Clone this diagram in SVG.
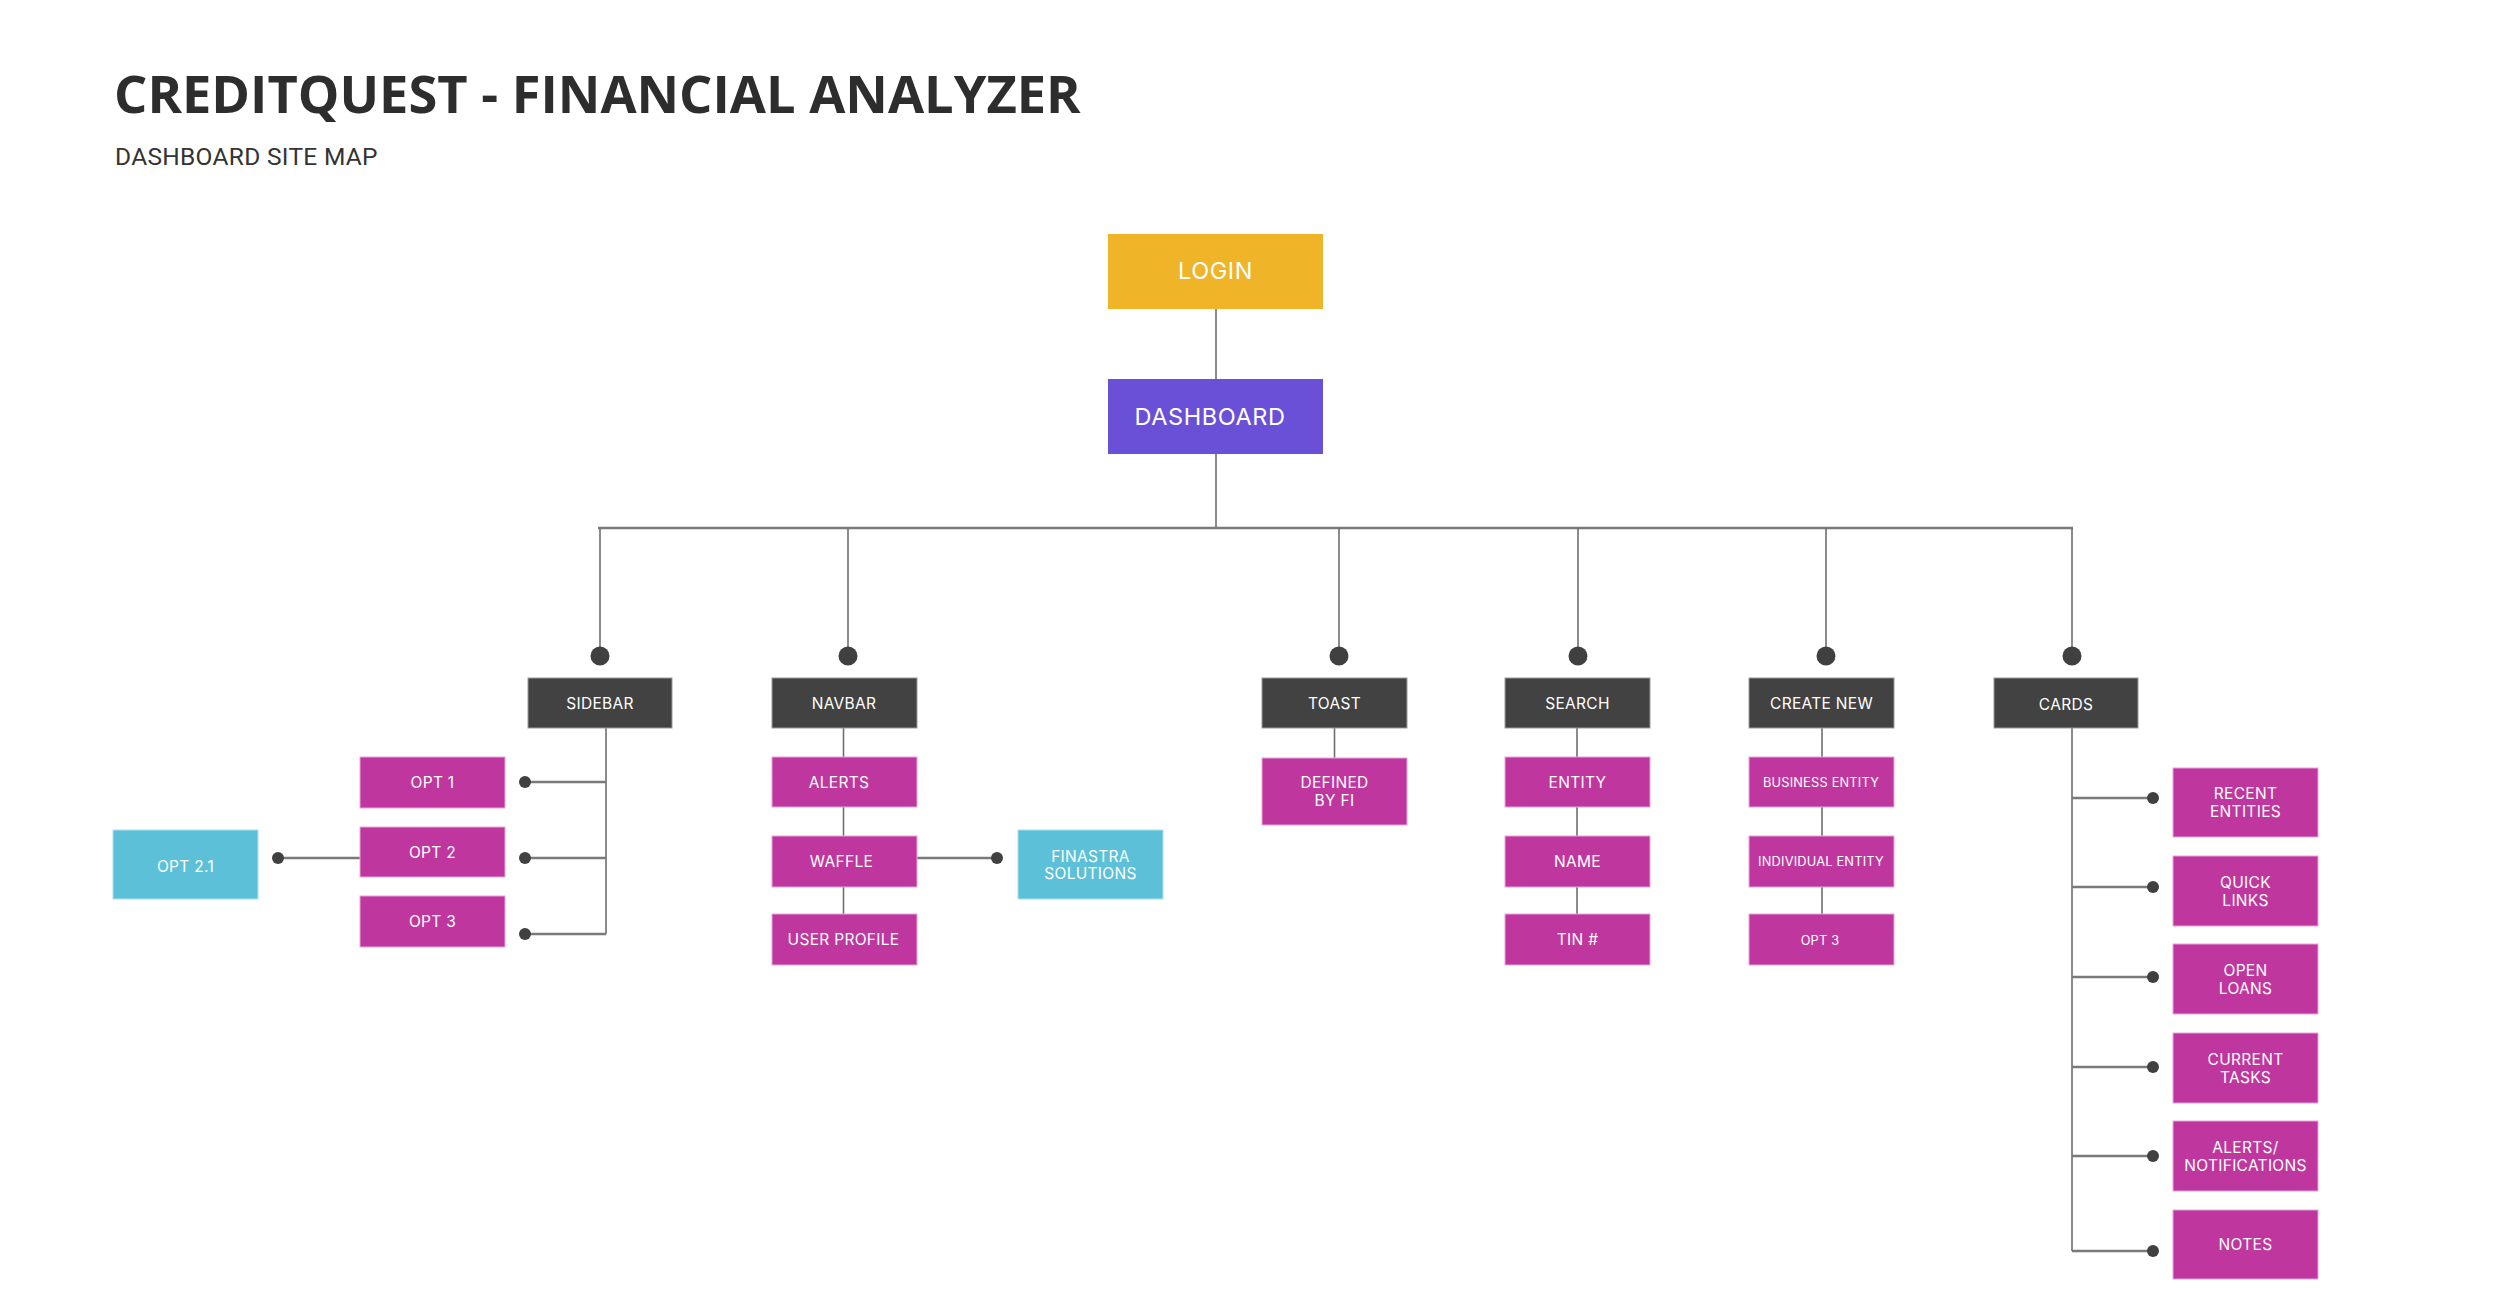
<svg xmlns="http://www.w3.org/2000/svg" width="2500" height="1309" viewBox="0 0 2500 1309">
<style>
.title{font-family:"Open Sans","DejaVu Sans",sans-serif;font-weight:700;font-size:52.4px;fill:#2d2d2d}
.sub{font-family:Roboto,"Liberation Sans",sans-serif;font-size:24.5px;letter-spacing:0.3px;fill:#333}
.lbl{font-family:Inter,"DejaVu Sans",sans-serif;fill:#fff;text-anchor:middle}
.big{font-size:23.5px;letter-spacing:0.6px}
.md{font-size:15.5px;letter-spacing:0.3px}
.sm{font-size:12.8px;letter-spacing:0.2px}
.login{fill:#efb427}
.dash{fill:#6a50d6}
.dark{fill:#424242;stroke:#9a9a9a;stroke-width:1}
.mag{fill:#bf379e;stroke:#e7a6d9;stroke-width:1}
.cyan{fill:#5cc1d8;stroke:#a9e2ee;stroke-width:1}
.ln{stroke:#6e6e6e;stroke-width:1.6;fill:none}
.hl{stroke:#7a7a7a;stroke-width:2.6;fill:none}
.dot{fill:#404040}
</style>
<rect width="2500" height="1309" fill="#fff"/>
<text class="title" x="114" y="113">CREDITQUEST - FINANCIAL ANALYZER</text>
<text class="sub" x="115" y="165">DASHBOARD SITE MAP</text>

<g id="connectors">
<line class="ln" x1="1216" y1="309" x2="1216" y2="379"/>
<line class="ln" x1="1216" y1="454" x2="1216" y2="528"/>
<line class="hl" x1="598" y1="528" x2="2073" y2="528"/>
<line class="ln" x1="600" y1="528" x2="600" y2="656"/>
<line class="ln" x1="848" y1="528" x2="848" y2="656"/>
<line class="ln" x1="1339" y1="528" x2="1339" y2="656"/>
<line class="ln" x1="1578" y1="528" x2="1578" y2="656"/>
<line class="ln" x1="1826" y1="528" x2="1826" y2="656"/>
<line class="ln" x1="2072" y1="528" x2="2072" y2="656"/>
<circle class="dot" cx="600" cy="656" r="9.5"/>
<circle class="dot" cx="848" cy="656" r="9.5"/>
<circle class="dot" cx="1339" cy="656" r="9.5"/>
<circle class="dot" cx="1578" cy="656" r="9.5"/>
<circle class="dot" cx="1826" cy="656" r="9.5"/>
<circle class="dot" cx="2072" cy="656" r="9.5"/>
<line class="ln" x1="606" y1="728" x2="606" y2="934"/>
<line class="hl" x1="525" y1="782" x2="606" y2="782"/>
<line class="hl" x1="525" y1="858" x2="606" y2="858"/>
<line class="hl" x1="525" y1="934" x2="606" y2="934"/>
<circle class="dot" cx="525" cy="782" r="6"/>
<circle class="dot" cx="525" cy="858" r="6"/>
<circle class="dot" cx="525" cy="934" r="6"/>
<line class="hl" x1="278" y1="858" x2="360" y2="858"/>
<circle class="dot" cx="278" cy="858" r="6"/>
<line class="ln" x1="843.5" y1="728" x2="843.5" y2="914"/>
<line class="hl" x1="917" y1="858" x2="997" y2="858"/>
<circle class="dot" cx="997" cy="858" r="6"/>
<line class="ln" x1="1334.5" y1="728" x2="1334.5" y2="758"/>
<line class="ln" x1="1577" y1="728" x2="1577" y2="914"/>
<line class="ln" x1="1822" y1="728" x2="1822" y2="914"/>
<line class="ln" x1="2072" y1="728" x2="2072" y2="1251"/>
<line class="hl" x1="2072" y1="798" x2="2153" y2="798"/>
<line class="hl" x1="2072" y1="887" x2="2153" y2="887"/>
<line class="hl" x1="2072" y1="977" x2="2153" y2="977"/>
<line class="hl" x1="2072" y1="1067" x2="2153" y2="1067"/>
<line class="hl" x1="2072" y1="1156" x2="2153" y2="1156"/>
<line class="hl" x1="2072" y1="1251" x2="2153" y2="1251"/>
<circle class="dot" cx="2153" cy="798" r="6"/>
<circle class="dot" cx="2153" cy="887" r="6"/>
<circle class="dot" cx="2153" cy="977" r="6"/>
<circle class="dot" cx="2153" cy="1067" r="6"/>
<circle class="dot" cx="2153" cy="1156" r="6"/>
<circle class="dot" cx="2153" cy="1251" r="6"/>
</g>

<g id="login"><rect class="login" x="1108" y="234" width="215" height="75"/><text class="lbl big" x="1215.5" y="279">LOGIN</text></g>
<g id="dashboard"><rect class="dash" x="1108" y="379" width="215" height="75"/><text class="lbl big" x="1210" y="425">DASHBOARD</text></g>

<g id="sidebar"><rect class="dark" x="528" y="678" width="144" height="50"/><text class="lbl md" x="600" y="708.5">SIDEBAR</text></g>
<g id="navbar"><rect class="dark" x="772" y="678" width="145" height="50"/><text class="lbl md" x="844" y="708.5">NAVBAR</text></g>
<g id="toast"><rect class="dark" x="1262" y="678" width="145" height="50"/><text class="lbl md" x="1334.5" y="708.5">TOAST</text></g>
<g id="search"><rect class="dark" x="1505" y="678" width="145" height="50"/><text class="lbl md" x="1577.5" y="708.5">SEARCH</text></g>
<g id="create-new"><rect class="dark" x="1749" y="678" width="145" height="50"/><text class="lbl md" x="1821.5" y="708.5">CREATE NEW</text></g>
<g id="cards"><rect class="dark" x="1994" y="678" width="144" height="50"/><text class="lbl md" x="2066" y="710">CARDS</text></g>

<g id="opt1"><rect class="mag" x="360" y="757" width="145" height="51"/><text class="lbl md" x="432.5" y="788">OPT 1</text></g>
<g id="opt2"><rect class="mag" x="360" y="827" width="145" height="50"/><text class="lbl md" x="432.5" y="857.5">OPT 2</text></g>
<g id="opt3"><rect class="mag" x="360" y="896" width="145" height="51"/><text class="lbl md" x="432.5" y="927">OPT 3</text></g>
<g id="opt21"><rect class="cyan" x="113" y="830" width="145" height="69"/><text class="lbl md" x="185.5" y="872">OPT 2.1</text></g>

<g id="alerts"><rect class="mag" x="772" y="757" width="145" height="50"/><text class="lbl md" x="839" y="787.5">ALERTS</text></g>
<g id="waffle"><rect class="mag" x="772" y="836" width="145" height="51"/><text class="lbl md" x="841.5" y="867">WAFFLE</text></g>
<g id="user-profile"><rect class="mag" x="772" y="914" width="145" height="51"/><text class="lbl md" x="843.5" y="945">USER PROFILE</text></g>
<g id="finastra"><rect class="cyan" x="1018" y="830" width="145" height="69"/><text class="lbl md" x="1090.5" y="861.5">FINASTRA</text><text class="lbl md" x="1090.5" y="879">SOLUTIONS</text></g>

<g id="defined-by-fi"><rect class="mag" x="1262" y="758" width="145" height="67"/><text class="lbl md" x="1334.5" y="788">DEFINED</text><text class="lbl md" x="1334.5" y="806">BY FI</text></g>

<g id="entity"><rect class="mag" x="1505" y="757" width="145" height="50"/><text class="lbl md" x="1577.5" y="787.5">ENTITY</text></g>
<g id="name"><rect class="mag" x="1505" y="836" width="145" height="51"/><text class="lbl md" x="1577.5" y="867">NAME</text></g>
<g id="tin"><rect class="mag" x="1505" y="914" width="145" height="51"/><text class="lbl md" x="1577.5" y="945">TIN #</text></g>

<g id="business-entity"><rect class="mag" x="1749" y="757" width="145" height="50"/><text class="lbl sm" x="1821" y="786.5">BUSINESS ENTITY</text></g>
<g id="individual-entity"><rect class="mag" x="1749" y="836" width="145" height="51"/><text class="lbl sm" x="1821" y="866">INDIVIDUAL ENTITY</text></g>
<g id="create-opt3"><rect class="mag" x="1749" y="914" width="145" height="51"/><text class="lbl sm" x="1820" y="945">OPT 3</text></g>

<g id="recent-entities"><rect class="mag" x="2173" y="768" width="145" height="69"/><text class="lbl md" x="2245.5" y="799">RECENT</text><text class="lbl md" x="2245.5" y="817">ENTITIES</text></g>
<g id="quick-links"><rect class="mag" x="2173" y="856" width="145" height="70"/><text class="lbl md" x="2245.5" y="887.5">QUICK</text><text class="lbl md" x="2245.5" y="905.5">LINKS</text></g>
<g id="open-loans"><rect class="mag" x="2173" y="944" width="145" height="70"/><text class="lbl md" x="2245.5" y="975.5">OPEN</text><text class="lbl md" x="2245.5" y="993.5">LOANS</text></g>
<g id="current-tasks"><rect class="mag" x="2173" y="1033" width="145" height="70"/><text class="lbl md" x="2245.5" y="1064.5">CURRENT</text><text class="lbl md" x="2245.5" y="1082.5">TASKS</text></g>
<g id="alerts-notifications"><rect class="mag" x="2173" y="1121" width="145" height="70"/><text class="lbl md" x="2245.5" y="1152.5">ALERTS/</text><text class="lbl md" x="2245.5" y="1170.5">NOTIFICATIONS</text></g>
<g id="notes"><rect class="mag" x="2173" y="1210" width="145" height="69"/><text class="lbl md" x="2245.5" y="1250">NOTES</text></g>
</svg>
